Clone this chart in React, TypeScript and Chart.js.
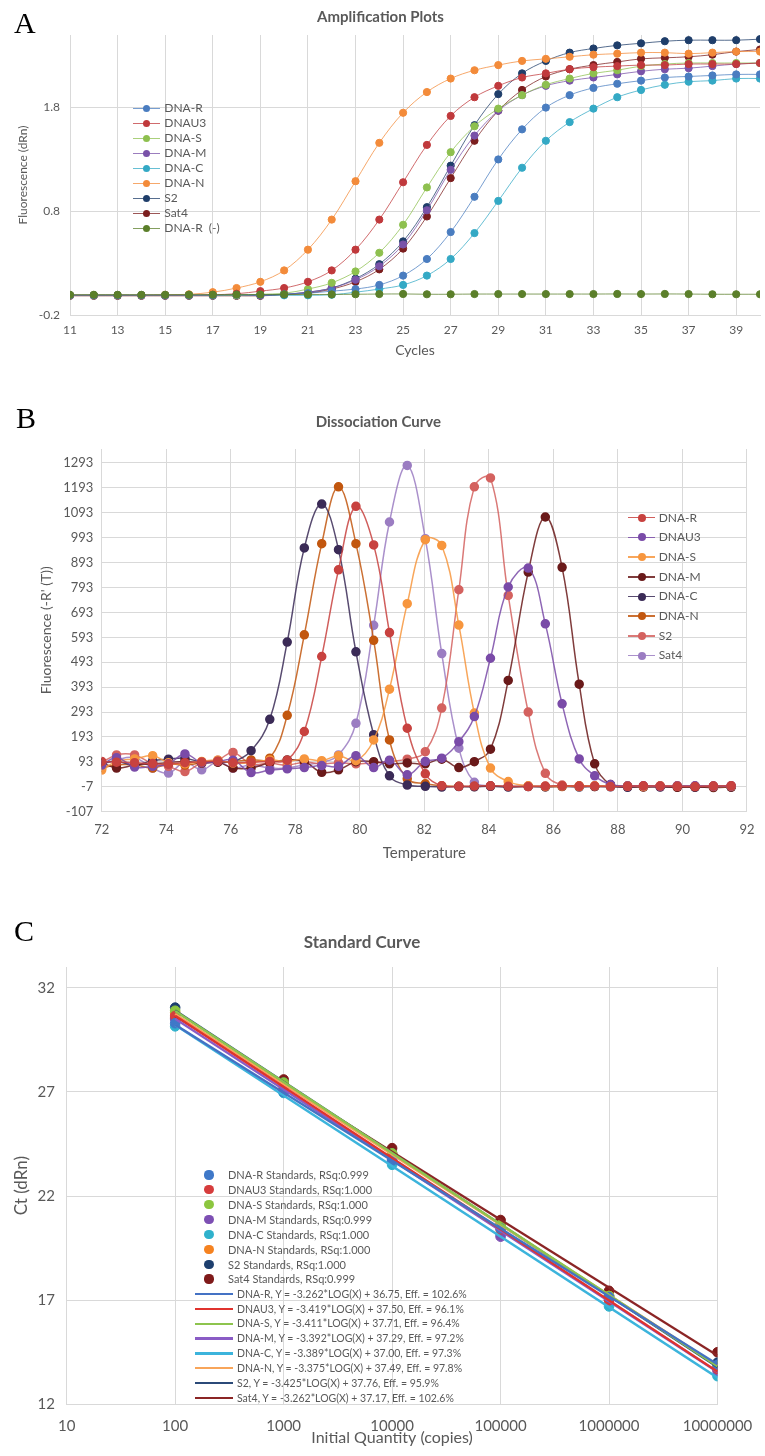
import React, { useEffect, useRef } from "react";
import { Chart, registerables } from "chart.js";

Chart.register(...registerables);

const FONT = "Lato, 'Open Sans', 'DejaVu Sans', sans-serif";
const TEXT = "#595959";
const GRID = "#d9d9d9";

// ---------------- Panel A : Amplification Plots ----------------
const aCycles = [11, 12, 13, 14, 15, 16, 17, 18, 19, 20, 21, 22, 23, 24, 25, 26, 27, 28, 29, 30, 31, 32, 33, 34, 35, 36, 37, 38, 39, 40];
const aXTicks = [11, 13, 15, 17, 19, 21, 23, 25, 27, 29, 31, 33, 35, 37, 39];
const aYTicks = [-0.2, 0.8, 1.8];
const aNames = ["DNA-R", "DNAU3", "DNA-S", "DNA-M", "DNA-C", "DNA-N", "S2", "Sat4", "DNA-R  (-)"];
const aColors = ["#4a7dc0", "#c0393c", "#8ec04f", "#7952a8", "#34a9c5", "#f38b3a", "#1f3e6a", "#7b1e1e", "#5b7f2a"];
const aDnaR = [-0.01, -0.01, -0.01, -0.01, -0.01, -0.01, -0.01, -0.005, -0.005, 0, 0.01, 0.03, 0.05, 0.09, 0.18, 0.34, 0.6, 0.94, 1.3, 1.59, 1.8, 1.92, 1.99, 2.03, 2.06, 2.09, 2.1, 2.11, 2.12, 2.12];
const aDnaU3 = [-0.01, -0.01, -0.01, -0.01, -0.01, -0.01, -0.005, 0.005, 0.03, 0.06, 0.12, 0.23, 0.43, 0.72, 1.08, 1.44, 1.72, 1.9, 2.01, 2.09, 2.13, 2.17, 2.19, 2.2, 2.21, 2.21, 2.22, 2.22, 2.22, 2.23];
const aDnaS = [-0.01, -0.01, -0.01, -0.01, -0.01, -0.01, -0.01, -0.01, 0, 0.01, 0.05, 0.11, 0.22, 0.4, 0.67, 1.03, 1.37, 1.62, 1.79, 1.92, 2.02, 2.08, 2.13, 2.16, 2.2, 2.22, 2.23, 2.23, 2.23, 2.23];
const aDnaM = [-0.01, -0.01, -0.01, -0.01, -0.01, -0.01, -0.01, -0.01, -0.01, 0, 0.02, 0.06, 0.14, 0.27, 0.48, 0.81, 1.2, 1.53, 1.77, 1.92, 2.01, 2.06, 2.09, 2.12, 2.15, 2.17, 2.18, 2.2, 2.22, 2.23];
const aDnaC = [-0.01, -0.01, -0.01, -0.01, -0.01, -0.01, -0.01, -0.01, -0.01, -0.01, -0.01, -0.005, 0.02, 0.05, 0.09, 0.18, 0.34, 0.59, 0.9, 1.22, 1.48, 1.66, 1.79, 1.9, 1.97, 2.02, 2.05, 2.06, 2.08, 2.08];
const aDnaN = [-0.01, -0.01, -0.01, -0.01, -0.005, 0, 0.02, 0.06, 0.12, 0.23, 0.43, 0.72, 1.09, 1.46, 1.75, 1.95, 2.08, 2.16, 2.21, 2.25, 2.27, 2.29, 2.31, 2.32, 2.33, 2.33, 2.32, 2.33, 2.34, 2.34];
const aS2 = [-0.01, -0.01, -0.01, -0.01, -0.01, -0.01, -0.01, -0.01, -0.01, 0, 0.02, 0.06, 0.15, 0.29, 0.51, 0.84, 1.24, 1.63, 1.93, 2.13, 2.25, 2.33, 2.37, 2.4, 2.42, 2.44, 2.45, 2.45, 2.45, 2.46];
const aSat4 = [-0.015, -0.015, -0.015, -0.015, -0.015, -0.015, -0.015, -0.015, -0.015, -0.005, 0.01, 0.05, 0.12, 0.24, 0.44, 0.75, 1.12, 1.48, 1.77, 1.97, 2.1, 2.17, 2.21, 2.24, 2.27, 2.28, 2.29, 2.31, 2.34, 2.36];
const aDnaRNeg = [-0.005, -0.005, -0.005, -0.005, -0.005, -0.004, -0.004, -0.003, -0.003, -0.002, -0.002, -0.002, 0, 0.002, 0.003, 0, 0, 0.002, 0.002, 0.002, 0.002, 0.002, 0.002, 0.003, 0.002, 0.003, 0.002, 0, 0, 0];
const aSeries = [aDnaR, aDnaU3, aDnaS, aDnaM, aDnaC, aDnaN, aS2, aSat4, aDnaRNeg];

// ---------------- Panel B : Dissociation Curve ----------------
const bTemps = [72.0, 72.46, 73.02, 73.58, 74.07, 74.58, 75.1, 75.6, 76.07, 76.63, 77.21, 77.75, 78.28, 78.82, 79.34, 79.88, 80.43, 80.92, 81.47, 82.03, 82.54, 83.07, 83.55, 84.05, 84.6, 85.22, 85.75, 86.27, 86.8, 87.28, 87.77, 88.3, 88.79, 89.31, 89.84, 90.39, 90.96, 91.51];
const bXTicks = [72, 74, 76, 78, 80, 82, 84, 86, 88, 90, 92];
const bYTicks = [-107, -7, 93, 193, 293, 393, 493, 593, 693, 793, 893, 993, 1093, 1193, 1293];
const bNames = ["DNA-R", "DNAU3", "DNA-S", "DNA-M", "DNA-C", "DNA-N", "S2", "Sat4"];
const bColors = ["#c8423f", "#7a4ba8", "#f7963e", "#6a1a1a", "#3b2b57", "#c2570f", "#d4625f", "#9b7dc2"];
const bDnaR = [95, 92, 90, 86, 84, 90, 93, 96, 90, 92, 95, 100, 215, 516, 864, 1119, 964, 612, 228, 45, -3, -5, -4, -3, -5, -6, -4, -3, -5, -4, -6, -5, -3, -4, -5, -6, -4, -3];
const bDnaU3 = [80, 110, 72, 75, 85, 125, 90, 95, 100, 50, 60, 65, 70, 78, 75, 118, 70, 100, 41, 95, 108, 174, 275, 509, 795, 871, 647, 326, 105, 37, 2, -4, -3, -5, -4, -3, -5, -4];
const bDnaS = [60, 95, 105, 118, 90, 85, 95, 100, 88, 90, 101, 95, 105, 98, 118, 98, 181, 385, 728, 985, 962, 642, 289, 68, 14, -3, -5, -4, -6, -3, -5, -4, -6, -3, -5, -4, -6, -5];
const bDnaM = [91, 68, 80, 85, 90, 95, 88, 92, 68, 68, 90, 101, 95, 51, 61, 94, 94, 85, 89, 85, 104, 70, 94, 144, 420, 855, 1076, 874, 405, 85, 2, -5, -8, -6, -9, -7, -10, -8];
const bDnaC = [88, 95, 80, 98, 104, 108, 92, 95, 94, 138, 264, 574, 952, 1128, 945, 535, 202, 37, 0, -5, -8, -6, -7, -5, -8, -6, -7, -5, -8, -6, -7, -9, -6, -8, -7, -9, -6, -8];
const bDnaN = [68, 81, 81, 68, 85, 80, 88, 92, 94, 101, 108, 280, 603, 969, 1197, 969, 581, 181, 25, 5, -3, -5, -6, -4, -6, -5, -7, -6, -4, -6, -5, -7, -6, -5, -7, -6, -5, -7];
const bS2 = [90, 121, 121, 85, 75, 54, 90, 100, 131, 85, 88, 80, 92, 85, 90, 85, 90, 95, 104, 134, 309, 784, 1197, 1233, 761, 293, 47, 0, -3, -5, -4, -3, -5, -4, -3, -5, -4, -3];
const bSat4 = [81, 101, 110, 68, 48, 91, 61, 94, 68, 81, 68, 68, 81, 91, 121, 248, 641, 1056, 1283, 989, 528, 148, 11, -3, -5, -4, -6, -3, -5, -4, -3, -5, -6, -4, -3, -5, -4, -3];
const bSeries = [bDnaR, bDnaU3, bDnaS, bDnaM, bDnaC, bDnaN, bS2, bSat4];

// ---------------- Panel C : Standard Curve ----------------
const cQty = [100, 1000, 10000, 100000, 1000000, 10000000];
const cXTicks = [10, 100, 1000, 10000, 100000, 1000000, 10000000];
const cYTicks = [12, 17, 22, 27, 32];
const cPointLabels = [
  "DNA-R Standards, RSq:0.999",
  "DNAU3 Standards, RSq:1.000",
  "DNA-S Standards, RSq:1.000",
  "DNA-M Standards, RSq:0.999",
  "DNA-C Standards, RSq:1.000",
  "DNA-N Standards, RSq:1.000",
  "S2 Standards, RSq:1.000",
  "Sat4 Standards, RSq:0.999",
];
const cLineLabels = [
  "DNA-R, Y = -3.262*LOG(X) + 36.75, Eff. = 102.6%",
  "DNAU3, Y = -3.419*LOG(X) + 37.50, Eff. = 96.1%",
  "DNA-S, Y = -3.411*LOG(X) + 37.71, Eff. = 96.4%",
  "DNA-M, Y = -3.392*LOG(X) + 37.29, Eff. = 97.2%",
  "DNA-C, Y = -3.389*LOG(X) + 37.00, Eff. = 97.3%",
  "DNA-N, Y = -3.375*LOG(X) + 37.49, Eff. = 97.8%",
  "S2, Y = -3.425*LOG(X) + 37.76, Eff. = 95.9%",
  "Sat4, Y = -3.262*LOG(X) + 37.17, Eff. = 102.6%",
];
const cPointColors = ["#3f78c8", "#d63c3c", "#8cc63f", "#7d4fb3", "#2fb1cc", "#f58220", "#1d3f6e", "#7f1a1a"];
const cLineColors = ["#4472c4", "#e0332e", "#8dc44e", "#8a5cc5", "#3cb4dc", "#f8a55a", "#2b4a78", "#8b2525"];
const cDnaR = [30.3, 27.0, 23.7, 20.45, 17.15, 13.9];
const cDnaU3 = [30.65, 27.25, 23.85, 20.4, 17.0, 13.7];
const cDnaS = [30.9, 27.45, 24.05, 20.6, 17.2, 13.85];
const cDnaM = [30.5, 27.1, 23.75, 20.05, 17.0, 13.6];
const cDnaC = [30.15, 26.95, 23.5, 20.15, 16.7, 13.35];
const cDnaN = [30.8, 27.35, 24.0, 20.6, 17.2, 13.85];
const cS2 = [31.05, 27.45, 24.05, 20.6, 17.2, 14.0];
const cSat4 = [30.55, 27.6, 24.3, 20.85, 17.45, 14.5];
const cPoints = [cDnaR, cDnaU3, cDnaS, cDnaM, cDnaC, cDnaN, cS2, cSat4];
const cTrendX = [100, 10000000];
const cTrendR = [30.23, 13.92];
const cTrendU3 = [30.66, 13.57];
const cTrendS = [30.89, 13.83];
const cTrendM = [30.51, 13.55];
const cTrendC = [30.22, 13.28];
const cTrendN = [30.74, 13.87];
const cTrendS2 = [30.91, 13.79];
const cTrendSat4 = [30.65, 14.34];
const cTrends = [cTrendR, cTrendU3, cTrendS, cTrendM, cTrendC, cTrendN, cTrendS2, cTrendSat4];

function rgba(hex: string, a: number) {
  const n = parseInt(hex.slice(1), 16);
  return `rgba(${(n >> 16) & 255},${(n >> 8) & 255},${n & 255},${a})`;
}

const f = (size: number, weight: any = "normal") => ({ family: FONT, size, weight });

function axisBase(ticks: number[], fixed: { w?: number; h?: number }) {
  return {
    afterBuildTicks: (s: any) => {
      s.ticks = ticks.map((v) => ({ value: v }));
    },
    afterFit: (s: any) => {
      if (fixed.w !== undefined) s.width = fixed.w;
      if (fixed.h !== undefined) s.height = fixed.h;
    },
    grid: { color: GRID, drawTicks: false, lineWidth: 1 },
    border: { color: GRID },
  };
}

function configA() {
  return {
    type: "line",
    data: {
      datasets: aNames.map((n, i) => ({
        label: n,
        data: aCycles.map((c, j) => ({ x: c, y: aSeries[i][j] })),
        borderColor: rgba(aColors[i], 0.75),
        backgroundColor: aColors[i],
        pointBackgroundColor: aColors[i],
        pointBorderColor: aColors[i],
        pointRadius: 3.6,
        borderWidth: 1,
        tension: 0.35,
        order: i === 8 ? -1 : i,
      })),
    },
    options: {
      responsive: false,
      animation: false,
      layout: { padding: { left: 0, right: 4, top: 0, bottom: 0 } },
      plugins: {
        legend: { display: false },
        tooltip: { enabled: false },
        title: { display: true, text: "Amplification Plots", color: TEXT, font: f(15, "bold"), padding: { top: 8.4, bottom: 8.6 } },
      },
      scales: {
        x: {
          type: "linear", min: 11, max: 40,
          ...axisBase(aXTicks, { h: 50 }),
          ticks: { color: TEXT, font: f(12), padding: 7.8, autoSkip: false, maxRotation: 0, callback: (v: any) => String(v) },
          title: { display: true, text: "Cycles", color: TEXT, font: f(14), padding: { top: 0, bottom: 6.6 } },
        },
        y: {
          type: "linear", min: -0.2, max: 2.5,
          ...axisBase(aYTicks, { w: 70 }),
          ticks: { color: TEXT, font: f(12), padding: 10, callback: (v: any) => Number(v).toFixed(1) },
          title: { display: true, text: "Fluorescence (dRn)", color: TEXT, font: f(12), padding: { top: 15.6, bottom: 0 } },
        },
      },
    },
  };
}

function configB() {
  return {
    type: "line",
    data: {
      datasets: bNames.map((n, i) => ({
        label: n,
        data: bTemps.map((t, j) => ({ x: t, y: bSeries[i][j] })),
        borderColor: rgba(bColors[i], 0.85),
        backgroundColor: bColors[i],
        pointBackgroundColor: bColors[i],
        pointBorderColor: bColors[i],
        pointRadius: 4,
        borderWidth: 1.5,
        tension: 0.4,
      })),
    },
    options: {
      responsive: false,
      animation: false,
      layout: { padding: { left: 0, right: 8.3, top: 0, bottom: 0 } },
      plugins: {
        legend: { display: false },
        tooltip: { enabled: false },
        title: { display: true, text: "Dissociation Curve", color: TEXT, font: f(15, "bold"), padding: { top: 17.7, bottom: 18.3 } },
      },
      scales: {
        x: {
          type: "linear", min: 72, max: 92,
          ...axisBase(bXTicks, { h: 58.3 }),
          ticks: { color: TEXT, font: f(13), padding: 10.5, autoSkip: false, maxRotation: 0, callback: (v: any) => String(v) },
          title: { display: true, text: "Temperature", color: TEXT, font: f(15), padding: { top: 0, bottom: 8 } },
        },
        y: {
          type: "linear", min: -107, max: 1349,
          ...axisBase(bYTicks, { w: 101.7 }),
          ticks: { color: TEXT, font: f(13), padding: 8.4, callback: (v: any) => String(v) },
          title: { display: true, text: "Fluorescence (-R' (T))", color: TEXT, font: f(14), padding: { top: 37.6, bottom: 0 } },
        },
      },
    },
  };
}

function configC() {
  const pointSets = cPointLabels.map((n, i) => ({
    label: n,
    data: cQty.map((q, j) => ({ x: q, y: cPoints[i][j] })),
    showLine: false,
    backgroundColor: cPointColors[i],
    borderColor: cPointColors[i],
    pointRadius: 4.8,
    order: 2,
  }));
  const lineSets = cLineLabels.map((n, i) => ({
    label: n,
    data: cTrendX.map((q, j) => ({ x: q, y: cTrends[i][j] })),
    showLine: true,
    borderColor: cLineColors[i],
    backgroundColor: cLineColors[i],
    borderWidth: 2.4,
    pointRadius: 0,
    order: 1,
  }));
  return {
    type: "scatter",
    data: { datasets: [...pointSets, ...lineSets] },
    options: {
      responsive: false,
      animation: false,
      layout: { padding: { left: 0, right: 41, top: 0, bottom: 0 } },
      plugins: {
        legend: { display: false },
        tooltip: { enabled: false },
        title: { display: true, text: "Standard Curve", color: TEXT, font: f(17, "bold"), padding: { top: 32.5, bottom: 14.1 } },
      },
      scales: {
        x: {
          type: "logarithmic", min: 10, max: 10000000,
          ...axisBase(cXTicks, { h: 51.7 }),
          ticks: { color: TEXT, font: f(15), padding: 12.7, autoSkip: false, maxRotation: 0, callback: (v: any) => String(v) },
          title: { display: true, text: "Initial Quantity (copies)", color: TEXT, font: f(16), padding: { top: 0, bottom: 8.4 } },
        },
        y: {
          type: "linear", min: 12, max: 33,
          ...axisBase(cYTicks, { w: 66.7 }),
          ticks: { color: TEXT, font: f(15), padding: 11.7, callback: (v: any) => String(v) },
          title: { display: true, text: "Ct (dRn)", color: TEXT, font: f(17), padding: { top: 11.5, bottom: 0 } },
        },
      },
    },
  };
}

function ChartBox({ top, height, make }: { top: number; height: number; make: () => any }) {
  const ref = useRef<HTMLCanvasElement>(null);
  useEffect(() => {
    const chart = new Chart(ref.current as HTMLCanvasElement, make() as any);
    return () => chart.destroy();
  }, []);
  return (
    <canvas
      ref={ref}
      width={765}
      height={height}
      style={{ position: "absolute", left: 0, top, width: 765, height, display: "block" }}
    />
  );
}

type Item = { text: string; dot?: string; line?: string };

function Legend(props: {
  items: Item[]; y0: number; step: number; dotX: number; dotR: number;
  lineX0: number; lineX1: number; lineW: number; textX: number; fontSize: number;
}) {
  const { items, y0, step, dotX, dotR, lineX0, lineX1, lineW, textX, fontSize } = props;
  const lh = fontSize * 1.2;
  return (
    <>
      {items.map((it, i) => {
        const cy = y0 + i * step;
        return (
          <React.Fragment key={i}>
            {it.line && (
              <div style={{ position: "absolute", left: lineX0, top: cy - lineW / 2, width: lineX1 - lineX0, height: lineW, background: it.line }} />
            )}
            {it.dot && (
              <div style={{ position: "absolute", left: dotX - dotR, top: cy - dotR, width: 2 * dotR, height: 2 * dotR, borderRadius: "50%", background: it.dot }} />
            )}
            <div
              style={{
                position: "absolute", left: textX, top: cy - lh / 2, height: lh, lineHeight: `${lh}px`,
                fontSize, fontFamily: FONT, color: TEXT, whiteSpace: "pre",
              }}
            >
              {it.text}
            </div>
          </React.Fragment>
        );
      })}
    </>
  );
}

const letterStyle = (left: number, top: number): React.CSSProperties => ({
  position: "absolute", left, top, fontFamily: "'Liberation Serif', 'DejaVu Serif', serif",
  fontSize: 30, lineHeight: "30px", color: "#000",
});

export default function App() {
  const aItems: Item[] = aNames.map((n, i) => ({ text: n, dot: aColors[i], line: rgba(aColors[i], 0.75) }));
  const bItems: Item[] = bNames.map((n, i) => ({ text: n, dot: bColors[i], line: rgba(bColors[i], 0.85) }));
  const cDotItems: Item[] = cPointLabels.map((n, i) => ({ text: n, dot: cPointColors[i] }));
  const cLineItems: Item[] = cLineLabels.map((n, i) => ({ text: n, line: cLineColors[i] }));
  return (
    <div style={{ position: "absolute", left: 0, top: 0, width: 765, height: 1456, background: "#fff", overflow: "hidden" }}>
      <ChartBox top={0} height={365} make={configA} />
      <ChartBox top={395} height={475} make={configB} />
      <ChartBox top={900} height={556} make={configC} />
      <Legend items={aItems} y0={108.3} step={15} dotX={146.7} dotR={3.6} lineX0={133} lineX1={160} lineW={1.2} textX={164.3} fontSize={12} />
      <Legend items={bItems} y0={517.7} step={19.7} dotX={641.7} dotR={4} lineX0={628} lineX1={655} lineW={1.5} textX={658.7} fontSize={12} />
      <Legend items={cDotItems} y0={1175} step={14.85} dotX={209} dotR={4.6} lineX0={0} lineX1={0} lineW={0} textX={228} fontSize={11} />
      <Legend items={cLineItems} y0={1294} step={14.85} dotX={0} dotR={0} lineX0={195} lineX1={233} lineW={2.4} textX={237} fontSize={10.5} />
      <div style={letterStyle(14, 8)}>A</div>
      <div style={letterStyle(16, 403)}>B</div>
      <div style={letterStyle(14, 916)}>C</div>
    </div>
  );
}
